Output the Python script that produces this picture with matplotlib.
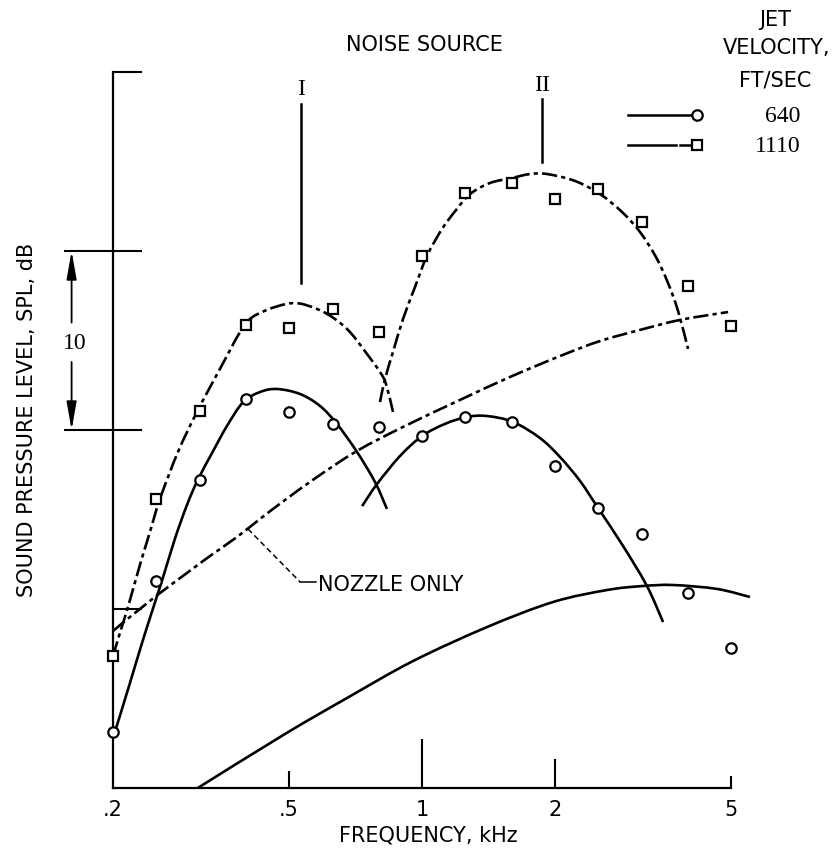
import numpy as np
import matplotlib
matplotlib.use("Agg")
import matplotlib.pyplot as plt
from matplotlib.lines import Line2D
from matplotlib.path import Path
from matplotlib.patches import PathPatch

plt.rcParams['lines.scale_dashes'] = False
SANS = ['DejaVu Sans']
SERIF = ['Liberation Serif', 'DejaVu Serif']

# ---------------- data ----------------
band_khz = [0.2, 0.25, 0.315, 0.4, 0.5, 0.63, 0.8, 1.0, 1.25, 1.6, 2.0, 2.5, 3.15, 4.0, 5.0]
spl_640 = [3.13, 11.56, 17.21, 21.73, 21.01, 20.34, 20.17, 19.66, 20.73, 20.45, 17.99, 15.64, 14.19, 10.89, 7.82]
spl_1110 = [7.37, 16.15, 21.06, 25.87, 25.70, 26.76, 25.47, 29.72, 33.24, 33.80, 32.91, 33.46, 31.62, 28.04, 25.81]

# faired curves, 640 ft/sec (solid)
src1_640_f = [0.202, 0.2185, 0.236, 0.258, 0.276, 0.294, 0.311, 0.337, 0.362,
              0.394, 0.430, 0.470, 0.530, 0.588, 0.642, 0.713, 0.783, 0.833]
src1_640_db = [3.13, 5.87, 8.60, 11.56, 13.91, 15.81, 17.21, 18.83, 20.22,
               21.56, 22.12, 22.29, 22.01, 21.34, 20.34, 18.77, 17.09, 15.59]
src2_640_f = [0.732, 0.791, 0.892, 1.0, 1.127, 1.264, 1.403, 1.607, 1.849, 2.052, 2.278, 2.502,
              2.850, 3.228, 3.510]
src2_640_db = [15.75, 16.98, 18.55, 19.66, 20.34, 20.73, 20.78, 20.45, 19.55, 18.49, 17.15, 15.64,
               13.52, 11.28, 9.27]
nozzle_640_f = [0.311, 0.490, 0.677, 0.954, 1.403, 1.979, 2.622, 3.146, 3.697, 4.65, 5.52]
nozzle_640_db = [0.0, 3.02, 5.03, 7.09, 8.99, 10.39, 11.06, 11.28, 11.34, 11.12, 10.67]

# faired curves, 1110 ft/sec (dash-dot)
src1_1110_f = [0.200, 0.2073, 0.2162, 0.2301, 0.2424, 0.2554, 0.2805, 0.3097, 0.3491, 0.3957, 0.4345,
               0.5106, 0.5786, 0.6355, 0.6873, 0.7508, 0.8035, 0.829, 0.8598]
src1_1110_db = [7.37, 8.66, 10.11, 12.46, 14.30, 16.15, 18.77, 21.01, 23.41, 25.81, 26.59,
                27.09, 26.76, 26.20, 25.47, 24.25, 23.24, 22.57, 21.01]
src2_1110_f = [0.8035, 0.8247, 0.8598, 0.9058, 0.9643, 1.026, 1.110, 1.194, 1.284, 1.425, 1.598, 1.755,
               1.918, 2.220, 2.527, 2.834, 3.113, 3.383, 3.602, 3.795, 3.998]
src2_1110_db = [21.56, 22.85, 24.36, 26.20, 27.99, 29.72, 31.23, 32.29, 33.18, 33.80, 34.08, 34.30,
                34.30, 33.91, 33.18, 32.18, 31.06, 29.66, 28.21, 26.65, 24.53]
nozzle_1110_f = [0.200, 0.2129, 0.2301, 0.2554, 0.2939, 0.3314, 0.3814, 0.430, 0.490, 0.5786, 0.7127,
                 0.9058, 1.219, 1.581, 2.052, 2.527, 3.113, 3.835, 4.924]
nozzle_1110_db = [8.77, 9.33, 10.0, 10.89, 12.01, 12.96, 14.02, 15.03, 16.09, 17.37, 18.83,
                  20.17, 21.68, 22.96, 24.13, 24.97, 25.59, 26.15, 26.59]

xtick_vals = [0.2, 0.5, 1, 2, 5]
xtick_labels = ['.2', '.5', '1', '2', '5']
xtick_len = [0, 12, 35, 21, 9]

# ---------------- figure ----------------
W, H = 833, 853
fig = plt.figure(figsize=(W / 100, H / 100), dpi=100)
ax = fig.add_axes([113 / W, 64 / H, 618 / W, 716 / H])
ax.set_xscale('log')
ax.set_xlim(0.2, 5)
ax.set_ylim(0, 40)
for s in ['top', 'right']:
    ax.spines[s].set_visible(False)
for s in ['left', 'bottom']:
    ax.spines[s].set_linewidth(1.6)

ax.xaxis.set_minor_locator(matplotlib.ticker.NullLocator())
ax.set_xticks(xtick_vals)
ax.set_xticklabels(xtick_labels, family=SANS, fontsize=15)
ax.tick_params(axis='x', direction='in', width=1.5, pad=8)
for t, L in zip(ax.xaxis.get_major_ticks(), xtick_len):
    t.tick1line.set_markersize(L)

ax.set_yticks([10, 20, 30, 40])
ax.set_yticklabels([])
ax.tick_params(axis='y', direction='in', length=21, width=1.5)


def faired(f, db, dashes=None):
    """Smooth (Catmull-Rom / cubic Bezier) curve through the faired points, in log-f space."""
    p = np.column_stack([np.log10(f), db])
    n = len(p)
    verts = [p[0]]
    codes = [Path.MOVETO]
    for i in range(n - 1):
        p0 = p[i - 1] if i > 0 else p[i]
        p1, p2 = p[i], p[i + 1]
        p3 = p[i + 2] if i + 2 < n else p[i + 1]
        verts += [p1 + (p2 - p0) / 6.0, p2 - (p3 - p1) / 6.0, p2]
        codes += [Path.CURVE4] * 3
    v = np.array(verts)
    v[:, 0] = 10 ** v[:, 0]
    ls = '-' if dashes is None else (0, dashes)
    patch = PathPatch(Path(v, codes), fill=False, edgecolor='k', lw=1.9, linestyle=ls,
                      capstyle='butt', clip_on=False, zorder=2)
    ax.add_patch(patch)


dd = (11, 3, 3, 3)
faired(src1_640_f, src1_640_db)
faired(src2_640_f, src2_640_db)
faired(nozzle_640_f, nozzle_640_db)
faired(src1_1110_f, src1_1110_db, dd)
faired(src2_1110_f, src2_1110_db, dd)
faired(nozzle_1110_f, nozzle_1110_db, dd)

mk = dict(ls='none', mfc='white', mec='k', mew=1.6, ms=7.5, clip_on=False, zorder=4)
ax.plot(band_khz, spl_640, marker='o', **mk)
ax.plot(band_khz, spl_1110, marker='s', **mk)

# noise source markers
ax.plot([0.532, 0.532], [28.2, 38.2], color='k', lw=1.8, clip_on=False)
ax.text(0.532, 39.1, 'I', family=SERIF, fontsize=17, ha='center', va='center')
ax.plot([1.868, 1.868], [35.0, 38.5], color='k', lw=1.8, clip_on=False)
ax.text(1.868, 39.3, 'II', family=SERIF, fontsize=17, ha='center', va='center')

# nozzle-only leader
ax.plot([0.404, 0.530], [14.47, 11.51], color='k', lw=1.1, dashes=(4, 2.5))
ax.plot([0.530, 0.575], [11.51, 11.51], color='k', lw=1.1)
ax.text(0.582, 11.4, 'NOZZLE ONLY', family=SANS, fontsize=15, ha='left', va='center')

# 10 dB scale
ytr = ax.get_yaxis_transform()
for yv in [20, 30]:
    ax.plot([-0.078, 0], [yv, yv], color='k', lw=1.5, transform=ytr, clip_on=False)
ap = dict(arrowstyle='-|>,head_length=1.7,head_width=0.3', color='k', lw=1.3,
          shrinkA=0, shrinkB=0, mutation_scale=10)
ax.annotate('', xy=(-0.067, 30), xytext=(-0.067, 26.0), xycoords=ytr, textcoords=ytr, arrowprops=ap)
ax.annotate('', xy=(-0.067, 20), xytext=(-0.067, 23.8), xycoords=ytr, textcoords=ytr, arrowprops=ap)
ax.text(-0.062, 24.9, '10', transform=ytr, family=SERIF, fontsize=17, ha='center', va='center')

# header texts
def ft(x, y, s, fam=SANS, size=15, **k):
    fig.text(x / W, 1 - y / H, s, family=fam, fontsize=size, ha='center', va='center', **k)

ft(424, 45, 'NOISE SOURCE')
ft(775, 20, 'JET')
ft(777, 48, 'VELOCITY,')
ft(775, 80, 'FT/SEC')
ft(783, 117, '640', fam=SERIF, size=17)
ft(778, 146, '1110', fam=SERIF, size=17)
ft(27, 420, 'SOUND PRESSURE LEVEL, SPL, dB', rotation=90)
ft(428, 836, 'FREQUENCY, kHz')

# legend keys
def fx(p): return p / W
def fy(p): return 1 - p / H
fig.add_artist(Line2D([fx(628), fx(691)], [fy(116), fy(116)], color='k', lw=1.8))
fig.add_artist(Line2D([fx(697)], [fy(116)], marker='o', ls='none', mfc='white', mec='k', mew=1.6, ms=7.5))
fig.add_artist(Line2D([fx(628), fx(676)], [fy(146), fy(146)], color='k', lw=1.8))
fig.add_artist(Line2D([fx(680), fx(690)], [fy(146), fy(146)], color='k', lw=1.8))
fig.add_artist(Line2D([fx(697)], [fy(146)], marker='s', ls='none', mfc='white', mec='k', mew=1.6, ms=7.5))

fig.savefig('out.png', dpi=100)
